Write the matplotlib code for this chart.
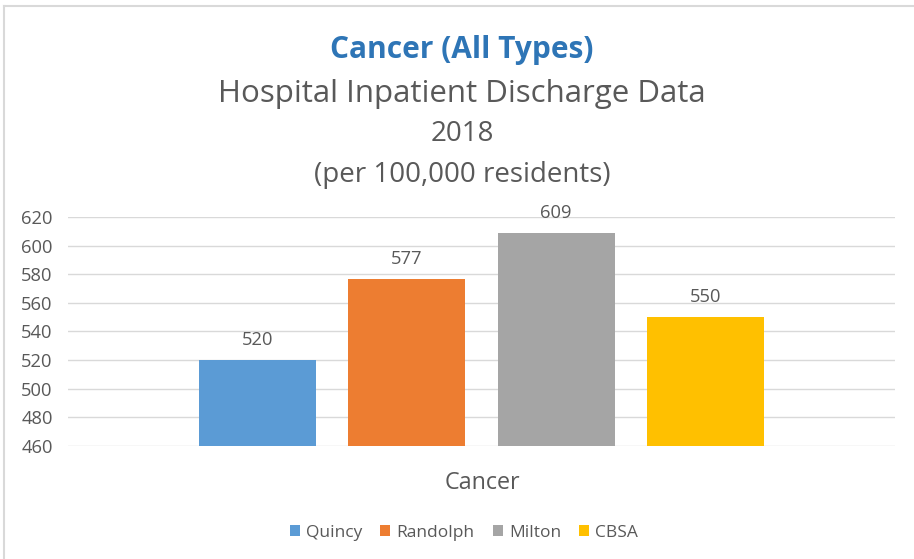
import matplotlib
matplotlib.use("Agg")
import matplotlib.pyplot as plt
from matplotlib.lines import Line2D
from matplotlib.patches import Patch

category = "Cancer"
series = ["Quincy", "Randolph", "Milton", "CBSA"]
values = [520, 577, 609, 550]
colors = ["#5B9BD5", "#ED7D31", "#A5A5A5", "#FFC000"]
yticks = [460, 480, 500, 520, 540, 560, 580, 600, 620]

plt.rcParams['font.family'] = ['Open Sans', 'DejaVu Sans']

W, H = 914, 559
fig = plt.figure(figsize=(W / 100, H / 100), dpi=100)
ax = fig.add_axes([68 / W, (H - 446) / H, 827 / W, 229 / H])

x = list(range(len(series)))
bars = ax.bar(x, values, width=0.78, color=colors, zorder=3)
for xi, v in zip(x, values):
    ax.text(xi, v + 7.5, f"{v}", ha="center", va="bottom", fontsize=13.2, color="#595959")

ax.set_xlim(-1.266, 4.266)
ax.set_ylim(460, 620)
ax.set_yticks(yticks)
ax.set_xticks([])
ax.grid(axis="y", color="#D9D9D9", linewidth=1, zorder=0)
for s in ax.spines.values():
    s.set_visible(False)
ax.tick_params(axis="y", length=0, labelsize=13.2, labelcolor="#595959", pad=11)

fig.text(482 / W, 1 - 483 / H, category, ha="center", va="center", fontsize=16.8, color="#595959")

fig.text(462 / W, 1 - 50 / H, "Cancer (All Types)", ha="center", va="center",
         fontsize=21.5, fontweight="bold", color="#2E75B6")
fig.text(462 / W, 1 - 94 / H, "Hospital Inpatient Discharge Data", ha="center", va="center",
         fontsize=22.5, color="#595959")
fig.text(462 / W, 1 - 134 / H, "2018", ha="center", va="center", fontsize=20, color="#595959")
fig.text(462 / W, 1 - 175 / H, "(per 100,000 residents)", ha="center", va="center",
         fontsize=20, color="#595959")

handles = [Patch(facecolor=c, edgecolor="none") for c in colors]
fig.legend(handles, series, loc="center", bbox_to_anchor=(464 / W, 1 - 533 / H), ncol=4,
           frameon=False, fontsize=12.5, labelcolor="#595959", handlelength=0.58, handleheight=0.58,
           handletextpad=0.35, columnspacing=1.05)

fig.add_artist(Line2D([3.5 / W, 3.5 / W], [0, 1 - 6 / H], color="#D9D9D9", linewidth=1.5))
fig.add_artist(Line2D([3.5 / W, 1], [1 - 6 / H, 1 - 6 / H], color="#D9D9D9", linewidth=1.5))

fig.savefig("out.png", dpi=100)
